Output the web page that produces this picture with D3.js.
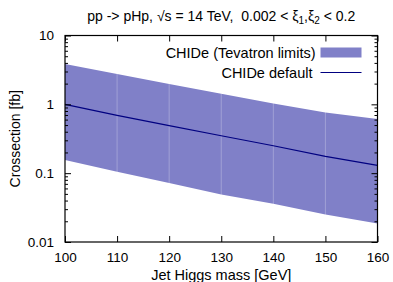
<!DOCTYPE html>
<html>
<head>
<meta charset="utf-8">
<script src="https://cdn.jsdelivr.net/npm/d3@7"></script>
<style>
  body { margin: 0; background: #fff; }
  svg { display: block; font-family: "Liberation Sans", Arial, sans-serif; }
</style>
</head>
<body>
<script>
// values
var masses = [100, 110, 120, 130, 140, 150, 160]
var bandUpper = [3.85, 2.75, 1.97, 1.42, 1.03, 0.76, 0.61]
var bandLower = [0.155, 0.105, 0.072, 0.049, 0.036, 0.025, 0.0186]
var chideDefault = [1.0, 0.69, 0.49, 0.35, 0.25, 0.175, 0.13]
var xTicks = [100, 110, 120, 130, 140, 150, 160]
var yTicks = [0.01, 0.1, 1, 10]
var yTickLabels = ['0.01', '0.1', '1', '10']

var W = 393, H = 282
var margin = {top: 35.5, right: 15.5, bottom: 40, left: 65}
var width = W - margin.left - margin.right,
  height = H - margin.top - margin.bottom

var bandColor = '#8080c8', lineColor = '#000080'

var svg = d3.select('body').append('svg')
  .attr('width', W).attr('height', H)

var g = svg.append('g')
  .attr('transform', 'translate(' + margin.left + ',' + margin.top + ')')

var x = d3.scaleLinear().domain([100, 160]).range([0, width])
var y = d3.scaleLog().domain([0.01, 10]).range([height, 0])

var rows = masses.map(function(m, i) {
  return {m: m, lo: bandLower[i], hi: bandUpper[i], c: chideDefault[i]}
})

// band
g.append('path')
  .datum(rows)
  .attr('fill', bandColor)
  .attr('d', d3.area()
    .x(function(d) { return x(d.m) })
    .y0(function(d) { return y(d.lo) })
    .y1(function(d) { return y(d.hi) }))

// vertical grid (only shows over the band)
g.selectAll('.grid')
  .data(xTicks.slice(1, -1))
  .enter().append('line')
  .attr('x1', function(d) { return x(d) }).attr('x2', function(d) { return x(d) })
  .attr('y1', 0).attr('y2', height)
  .attr('stroke', 'rgba(255,255,255,0.25)')
  .attr('stroke-width', 1)

// central line
g.append('path')
  .datum(rows)
  .attr('fill', 'none')
  .attr('stroke', lineColor)
  .attr('stroke-width', 1.2)
  .attr('d', d3.line()
    .x(function(d) { return x(d.m) })
    .y(function(d) { return y(d.c) }))

// axes, ticks pointing inwards
var minorY = []
for (var e = -2; e < 1; e++) {
  for (var k = 2; k < 10; k++) minorY.push(k * Math.pow(10, e))
}

function styleAxis(sel) {
  sel.select('.domain').remove()
  sel.selectAll('line').attr('stroke', '#000').attr('stroke-width', 1)
  sel.selectAll('text').attr('fill', '#000').style('font-size', '13.5px')
}

var xAxis = g.append('g')
  .attr('transform', 'translate(0,' + height + ')')
  .call(d3.axisBottom(x).tickValues(xTicks).tickSize(-6).tickPadding(10))
styleAxis(xAxis)

var xAxisTop = g.append('g')
  .call(d3.axisTop(x).tickValues(xTicks).tickSize(-6).tickFormat(''))
styleAxis(xAxisTop)

var yAxis = g.append('g')
  .call(d3.axisLeft(y).tickValues(yTicks).tickSize(-6).tickPadding(11)
    .tickFormat(function(d, i) { return yTickLabels[i] }))
styleAxis(yAxis)

var yMinor = g.append('g')
  .call(d3.axisLeft(y).tickValues(minorY).tickSize(-3).tickFormat(''))
styleAxis(yMinor)

var yAxisR = g.append('g')
  .attr('transform', 'translate(' + width + ',0)')
  .call(d3.axisRight(y).tickValues(yTicks).tickSize(-6).tickFormat(''))
styleAxis(yAxisR)

var yMinorR = g.append('g')
  .attr('transform', 'translate(' + width + ',0)')
  .call(d3.axisRight(y).tickValues(minorY).tickSize(-3).tickFormat(''))
styleAxis(yMinorR)

// frame
g.append('rect')
  .attr('width', width).attr('height', height)
  .attr('fill', 'none').attr('stroke', '#000').attr('stroke-width', 1.2)

// legend
var legend = g.append('g').attr('transform', 'translate(' + (width - 62) + ',0)')
legend.append('text')
  .attr('x', 0).attr('y', 17).attr('dy', '0.35em')
  .attr('text-anchor', 'end').style('font-size', '14.5px')
  .text('CHIDe (Tevatron limits)')
legend.append('rect')
  .attr('x', 5).attr('y', 12).attr('width', 41).attr('height', 10)
  .attr('fill', bandColor)
legend.append('text')
  .attr('x', -3).attr('y', 37.5).attr('dy', '0.35em')
  .attr('text-anchor', 'end').style('font-size', '14.5px')
  .text('CHIDe default')
legend.append('line')
  .attr('x1', 5).attr('x2', 46).attr('y1', 37).attr('y2', 37)
  .attr('stroke', lineColor).attr('stroke-width', 1.2)

// titles
var title = svg.append('text')
  .attr('x', margin.left + width / 2).attr('y', 16.5).attr('dy', '0.35em')
  .attr('text-anchor', 'middle').style('font-size', '14px')
  .style('white-space', 'pre')
title.append('tspan').text('pp -> pHp, \u221As = 14 TeV,  0.002 < \u03BE')
title.append('tspan').attr('dy', '3').style('font-size', '10px').text('1')
title.append('tspan').attr('dy', '-3').text(',\u03BE')
title.append('tspan').attr('dy', '3').style('font-size', '10px').text('2')
title.append('tspan').attr('dy', '-3').text(' < 0.2')

svg.append('text')
  .attr('x', margin.left + width / 2).attr('y', 275).attr('dy', '0.35em')
  .attr('text-anchor', 'middle').style('font-size', '14.5px')
  .text('Jet Higgs mass [GeV]')

svg.append('text')
  .attr('transform', 'translate(15,' + (margin.top + height / 2) + ') rotate(-90)')
  .attr('dy', '0.35em')
  .attr('text-anchor', 'middle').style('font-size', '14px')
  .text('Crossection [fb]')
</script>
</body>
</html>
